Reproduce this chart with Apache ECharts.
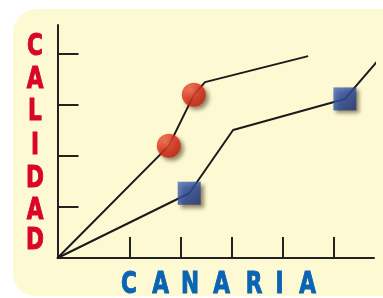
<!DOCTYPE html>
<html>
<head>
<meta charset="utf-8">
<style>
  html, body { margin: 0; padding: 0; background: #ffffff; }
  #chart { width: 383px; height: 298px; }
</style>
<script src="https://cdn.jsdelivr.net/npm/echarts@6/dist/echarts.min.js"></script>
</head>
<body>
<div id="chart"></div>
<script>
// 数据：两条折线（单位 = 刻度间距）
const upperX = [0, 2.18, 2.67, 2.89, 4.91]
const upperY = [0, 2.2, 3.2, 3.45, 3.96]
const upperMarks = [1, 2] // 红色圆点所在下标

const lowerX = [0, 2.58, 3.44, 5.63, 6.61]
const lowerY = [0, 1.27, 2.51, 3.12, 4.26]
const lowerMarks = [1, 3] // 蓝色方块所在下标

const xTicks = [1.42, 2.42, 3.42, 4.42, 5.42]
const yTicks = [1, 2, 3, 4]

const yTitle = 'CALIDAD'
const xTitle = 'CANARIA'

const pairs = (xs, ys) => xs.map((x, i) => [x, ys[i]])
const pick = (xs, ys, idx) => idx.map(i => [xs[i], ys[i]])

const chart = echarts.init(document.getElementById('chart'))

const letterFont = 'bold 30px "Liberation Sans Narrow", "DejaVu Sans Condensed", "Roboto", sans-serif'
const yLetterPos = [47.5, 80, 112.5, 146, 179, 211.5, 241]
const xLetterPos = [129, 160.5, 190, 221.5, 254, 279.5, 307.5]

const graphics = [
  {
    type: 'rect',
    z: -10,
    shape: { x: 13, y: 9, width: 400, height: 287, r: [24, 0, 0, 22] },
    style: { fill: '#fdf9d2' }
  }
]
// 标题字母逐个摆放（字距较大）
yTitle.split('').forEach((ch, i) => {
  graphics.push({
    type: 'text', x: 35, y: yLetterPos[i], scaleX: 0.8,
    style: { text: ch, font: letterFont, fill: '#d9052b', stroke: '#d9052b', lineWidth: 1, align: 'center', verticalAlign: 'middle' }
  })
})
xTitle.split('').forEach((ch, i) => {
  graphics.push({
    type: 'text', x: xLetterPos[i], y: 285, scaleX: 0.8,
    style: { text: ch, font: letterFont, fill: '#0a64b4', stroke: '#0a64b4', lineWidth: 1, align: 'center', verticalAlign: 'middle' }
  })
})

const lineStyle = { color: '#1a1a1a', width: 2 }
const axisLine = { show: true, onZero: false, lineStyle: { color: '#222', width: 2 } }

const circleStyle = {
  color: new echarts.graphic.RadialGradient(0.38, 0.32, 0.75, [
    { offset: 0, color: '#f46a4a' },
    { offset: 0.5, color: '#e0301c' },
    { offset: 1, color: '#c21d10' }
  ]),
  shadowColor: 'rgba(50,30,0,0.65)',
  shadowBlur: 4,
  shadowOffsetX: 3,
  shadowOffsetY: 3
}
const squareStyle = {
  color: new echarts.graphic.LinearGradient(0, 0, 1, 1, [
    { offset: 0, color: '#4a6cc0' },
    { offset: 0.5, color: '#2c4c9c' },
    { offset: 1, color: '#1d3478' }
  ]),
  shadowColor: 'rgba(50,30,0,0.65)',
  shadowBlur: 4,
  shadowOffsetX: 3,
  shadowOffsetY: 3
}

const option = {
  animation: false,
  backgroundColor: '#ffffff',
  graphic: graphics,
  grid: { left: 57.5, right: 9, top: 25, bottom: 40 },
  xAxis: {
    type: 'value', min: 0, max: 6.2,
    axisLine: axisLine,
    axisTick: { show: true, inside: true, length: 21, customValues: xTicks, lineStyle: { color: '#222', width: 2 } },
    axisLabel: { show: false },
    splitLine: { show: false }
  },
  yAxis: {
    type: 'value', min: 0, max: 4.57,
    axisLine: axisLine,
    axisTick: { show: true, inside: true, length: 21, customValues: yTicks, lineStyle: { color: '#222', width: 2 } },
    axisLabel: { show: false },
    splitLine: { show: false }
  },
  series: [
    { type: 'line', data: pairs(upperX, upperY), symbol: 'none', clip: false, lineStyle: lineStyle, z: 2 },
    { type: 'line', data: pairs(lowerX, lowerY), symbol: 'none', clip: false, lineStyle: lineStyle, z: 2 },
    { type: 'scatter', data: pick(upperX, upperY, upperMarks), symbol: 'circle', symbolSize: 24, itemStyle: circleStyle, z: 5 },
    { type: 'scatter', data: pick(lowerX, lowerY, lowerMarks), symbol: 'rect', symbolSize: 23, itemStyle: squareStyle, z: 5 }
  ]
}

chart.setOption(option)
</script>
</body>
</html>
